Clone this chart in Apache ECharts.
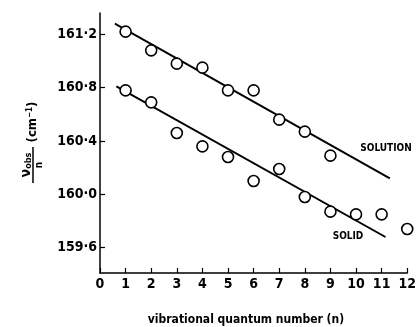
<!DOCTYPE html>
<html>
<head>
<meta charset="utf-8">
<script src="https://cdn.jsdelivr.net/npm/echarts@6/dist/echarts.min.js"></script>
<style>
  html, body { margin: 0; padding: 0; background: #fff; }
  #main { width: 419px; height: 327px; }
</style>
</head>
<body>
<div id="main"></div>
<script>
// vibrational quantum number n
var nValues = [1, 2, 3, 4, 5, 6, 7, 8, 9, 10, 11, 12];
// nu_obs / n (cm-1)
var solutionVals = [161.22, 161.08, 160.98, 160.95, 160.78, 160.78, 160.56, 160.47, 160.29];
var solidVals = [160.78, 160.69, 160.46, 160.36, 160.28, 160.10, 160.19, 159.98, 159.87, 159.85, 159.85, 159.74];
// fitted straight lines: [n, value] at both ends
var solutionFit = [[0.58, 161.28], [11.32, 160.12]];
var solidFit = [[0.64, 160.81], [11.15, 159.68]];
var yTicks = [159.6, 160.0, 160.4, 160.8, 161.2];

var font = 'DejaVu Sans Condensed';

function pairs(xs, ys) {
	return ys.map(function (v, i) { return [xs[i], v]; });
}

var myChart = echarts.init(document.getElementById('main'));
var option = {
	animation: false,
	grid: { left: 100, right: 7, top: 13, bottom: 54 },
	xAxis: {
		type: 'value',
		min: 0,
		max: 12,
		interval: 1,
		splitLine: { show: false },
		axisLine: { lineStyle: { color: '#000', width: 1.5 } },
		axisTick: { inside: true, length: 5, lineStyle: { color: '#000', width: 1.2 } },
		axisLabel: { color: '#000', fontFamily: font, fontWeight: 'bold', fontSize: 14, margin: 4 }
	},
	yAxis: {
		type: 'value',
		min: 159.41,
		max: 161.36,
		splitLine: { show: false },
		axisLine: { show: true, lineStyle: { color: '#000', width: 1.5 } },
		axisTick: { inside: true, length: 5, customValues: yTicks, lineStyle: { color: '#000', width: 1.2 } },
		axisLabel: {
			customValues: yTicks,
			color: '#000', fontFamily: font, fontWeight: 'bold', fontSize: 14, margin: 3,
			formatter: function (v) { return v.toFixed(1).replace('.', '·'); }
		}
	},
	series: [
		{
			type: 'line', data: solutionFit, symbol: 'none',
			lineStyle: { color: '#000', width: 2 }, z: 1
		},
		{
			type: 'line', data: solidFit, symbol: 'none',
			lineStyle: { color: '#000', width: 2 }, z: 1
		},
		{
			type: 'scatter', data: pairs(nValues, solutionVals), symbol: 'circle', symbolSize: 11,
			itemStyle: { color: '#fff', borderColor: '#000', borderWidth: 1.6, opacity: 1 }, z: 3
		},
		{
			type: 'scatter', data: pairs(nValues, solidVals), symbol: 'circle', symbolSize: 11,
			itemStyle: { color: '#fff', borderColor: '#000', borderWidth: 1.6, opacity: 1 }, z: 3
		}
	],
	graphic: [
		{
			type: 'text', x: 386, y: 148,
			style: { text: 'SOLUTION', fill: '#000', font: 'bold 10px ' + font, align: 'center', verticalAlign: 'middle' }
		},
		{
			type: 'text', x: 348, y: 236,
			style: { text: 'SOLID', fill: '#000', font: 'bold 10px ' + font, align: 'center', verticalAlign: 'middle' }
		},
		{
			type: 'text', x: 246, y: 320,
			style: { text: 'vibrational quantum number (n)', fill: '#000', font: 'bold 12px ' + font, align: 'center', verticalAlign: 'middle' }
		},
		{
			// rotated y-axis title: nu_obs / n  (cm-1)
			type: 'group', x: 33, y: 183, rotation: Math.PI / 2,
			children: [
				{ type: 'line', shape: { x1: 0, y1: 0, x2: 36, y2: 0 }, style: { stroke: '#000', lineWidth: 1.5 } },
				{
					type: 'text', x: 18, y: -7,
					style: {
						text: '{v|ν}{s|obs}', align: 'center', verticalAlign: 'middle',
						rich: {
							v: { font: 'bold 14px ' + font, fill: '#000' },
							s: { font: 'bold 9px ' + font, fill: '#000', verticalAlign: 'bottom', padding: [6, 0, 0, 0] }
						}
					}
				},
				{
					type: 'text', x: 18, y: 6,
					style: { text: 'n', font: 'bold 10px ' + font, fill: '#000', align: 'center', verticalAlign: 'middle' }
				},
				{
					type: 'text', x: 61, y: 0,
					style: {
						text: '{a|(cm}{b|−1}{a|)}', align: 'center', verticalAlign: 'middle',
						rich: {
							a: { font: 'bold 13px ' + font, fill: '#000' },
							b: { font: 'bold 8px ' + font, fill: '#000', padding: [0, 0, 7, 0] }
						}
					}
				}
			]
		}
	]
};
myChart.setOption(option);
</script>
</body>
</html>
